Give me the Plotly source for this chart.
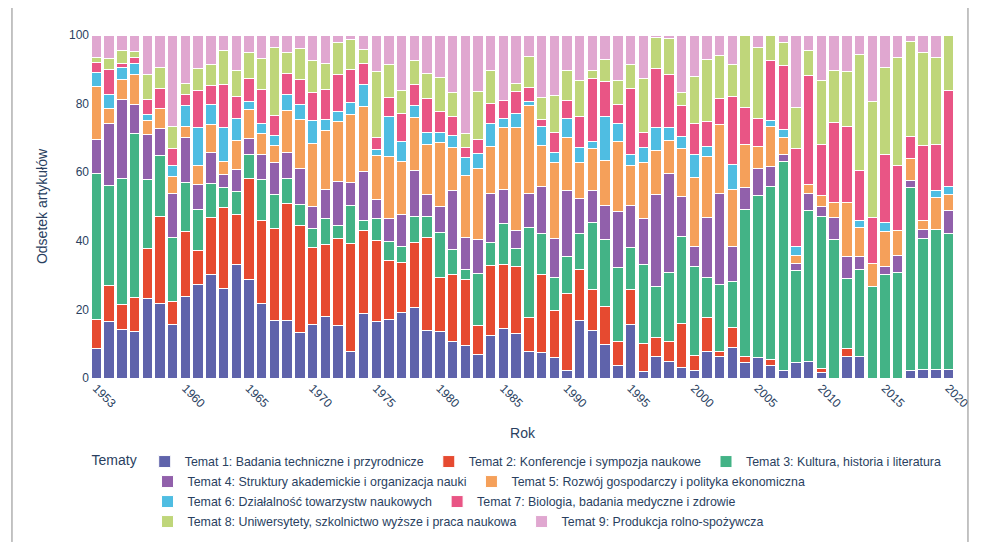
import plotly.graph_objects as go

years = list(range(1953, 2021))

topic_names = [
    "Temat 1: Badania techniczne i przyrodnicze",
    "Temat 2: Konferencje i sympozja naukowe",
    "Temat 3: Kultura, historia i literatura",
    "Temat 4: Struktury akademickie i organizacja nauki",
    "Temat 5: Rozwój gospodarczy i polityka ekonomiczna",
    "Temat 6: Działalność towarzystw naukowych",
    "Temat 7: Biologia, badania medyczne i zdrowie",
    "Temat 8: Uniwersytety, szkolnictwo wyższe i praca naukowa",
    "Temat 9: Produkcja rolno-spożywcza",
]

topic_colors = ["#5f63ab", "#e64a30", "#43b386", "#9160ab", "#f5a05a",
                "#4fbde2", "#e95585", "#bfd67a", "#e0a7d0"]

t1 = [8.5, 16.5, 14, 13.6, 23.1, 21.6, 15.7, 23.8, 27.2, 30.3,
      26, 33, 28.7, 21.6, 16.7, 16.7, 13.4, 15.7, 17.8, 15.4,
      7.8, 18.7, 16.5, 17, 19.2, 20.7, 13.8, 13.6, 10.7, 9.4,
      6.8, 12.4, 14.3, 13.1, 7.6, 7.3, 6, 2.1, 16.8, 13.9,
      9.9, 3.7, 15.5, 1.9, 6.3, 4.9, 3.1, 2.1, 7.6, 6.3,
      8.9, 4.4, 6, 3.7, 2.1, 4.6, 4.9, 1.5, 0, 6.3,
      6.3, 0, 0, 0, 2.1, 2.4, 2.4, 2.4]
t2 = [8.5, 10.5, 7.4, 10, 14.6, 25.4, 6.5, 19, 9.9, 16.5,
      23.6, 14.8, 29.6, 24.3, 27, 34.3, 31.1, 22.4, 21.1, 25.4,
      31.3, 24.4, 23.7, 17.3, 14.5, 18.9, 27.3, 15.8, 19.6, 19.3,
      8.5, 20.4, 18.9, 19.5, 9.9, 22.8, 13.6, 22.5, 14.8, 11.9,
      11, 6.8, 10.3, 8.3, 5.6, 5.8, 12.9, 4.5, 10.1, 1.3,
      5.7, 1.9, 0, 1.8, 0, 0, 0, 1.4, 0, 2.4,
      0, 0, 0, 0, 0, 0, 0, 0]
t3 = [42.5, 29, 36.9, 47.6, 20.3, 17.8, 18.9, 14.3, 12, 9.8,
      5.8, 6.6, 7, 11.9, 9.9, 7.3, 6.2, 5.4, 7.7, 3.6,
      11.1, 2.8, 6.3, 5.5, 4.7, 7.5, 6, 12.9, 7.3, 2.9,
      15.1, 6.8, 11.7, 5.3, 26.4, 11.9, 9.6, 10.9, 10.4, 19.4,
      19.4, 21.8, 12.3, 22.8, 14.9, 20.2, 25.3, 26, 11.5, 19.8,
      13.4, 42.8, 47.3, 50.4, 60.9, 26.7, 43.9, 44.2, 40.5, 20.2,
      25.3, 26.7, 30.1, 30.8, 53.5, 38.4, 40.8, 39.6]
t4 = [10, 18.3, 22.8, 8.5, 13.1, 7.9, 12.8, 12.9, 7.3, 9,
      3.9, 6.3, 4.4, 7.3, 9.1, 7.3, 10.3, 6.5, 8.5, 12.9,
      6.9, 14.4, 5.5, 6.8, 9.2, 13.4, 6.3, 7.7, 17, 9.4,
      9.9, 14.3, 10, 5.2, 10, 13.9, 11.4, 19.2, 10.2, 9.5,
      10, 16.1, 12.2, 13.4, 26.6, 28.7, 11.7, 5.6, 17.6, 26.3,
      10.2, 6.3, 7.9, 5.8, 2.3, 2, 4.9, 2.9, 6.3, 6.6,
      3.9, 0, 2.5, 4.9, 1.9, 2.5, 0, 6.8]
t5 = [15.5, 4.4, 5.9, 8.7, 4, 6, 4.9, 3.2, 5.6, 8.3,
      3.9, 8.6, 8.7, 6.3, 5.1, 12.3, 14.5, 18.5, 17, 17.5,
      19.7, 18.9, 12.8, 18, 15.6, 15.5, 14.6, 18.7, 12.5, 18,
      20.9, 13.6, 18, 30, 25.6, 11.9, 22.1, 15.3, 10.5, 12.2,
      13.1, 20.6, 11.7, 16.5, 12.9, 9.6, 13.9, 20.4, 17.8, 20.3,
      16.9, 12.8, 6.3, 11.7, 4.7, 2.3, 2.7, 3.3, 4.5, 15.8,
      8.4, 6.8, 10.2, 7.3, 6.6, 2.6, 9.3, 4.8]
t6 = [4, 4.1, 3.6, 3.2, 1.6, 0, 3.1, 6.3, 10.9, 5.8,
      9.9, 6.5, 2.1, 2.8, 2.9, 4.7, 4.2, 6.6, 3.4, 2.9,
      3.4, 6.3, 1.8, 11.7, 5.8, 3.4, 3.7, 3, 3.6, 5.3,
      4.2, 6.8, 2.9, 3.9, 1.2, 5.6, 3.1, 5.6, 4.6, 2.1,
      12.9, 5.3, 3.3, 4.3, 6.6, 3.7, 3.6, 6.7, 2.9, 0,
      7.1, 0, 0, 1.7, 2.4, 2.6, 0, 0, 0, 0,
      1.9, 0, 2.4, 0, 0, 0, 2.2, 2.3]
t7 = [3, 7.1, 1.2, 1.7, 4.6, 5.7, 4.9, 3.1, 11, 5.6,
      12.4, 6.3, 6.7, 9.9, 5.9, 6.1, 7.3, 8, 8.6, 10.9,
      9.7, 6.1, 3.6, 5.5, 8, 6.1, 9.7, 6, 5.4, 3,
      4.1, 5.6, 5.1, 6.4, 4, 1.9, 5.9, 5.3, 9, 18.2,
      10.2, 5.4, 19, 4.3, 17.3, 15.5, 9, 9, 7.3, 7.4,
      19.9, 10.7, 8.1, 17.6, 18.6, 28.7, 31.7, 14.9, 23.2, 22.1,
      14.6, 13.3, 20.1, 19, 6.4, 21.8, 13.5, 28]
t8 = [1.5, 3.2, 3.6, 1.9, 7.3, 6, 6.4, 3.4, 6.4, 6.1,
      9.9, 7.6, 7.8, 9, 19.8, 6.3, 9.2, 9.4, 7.7, 9.1,
      8.7, 4.1, 19.2, 9.7, 6.9, 7.1, 7.3, 9.8, 7.2, 4.1,
      14.1, 9.8, 0, 2.6, 9.1, 6.6, 10.7, 8.8, 10.5, 2.5,
      6.5, 7.1, 7.2, 15.8, 9.1, 10.7, 3.6, 13.7, 18, 12.7,
      9.4, 21.1, 20.8, 7.3, 6.9, 12, 7.4, 18.5, 15.2, 16,
      33.9, 33.7, 25.1, 31.3, 27.7, 27.3, 25.3, 16.1]
t9 = [6.5, 6.9, 4.6, 4.8, 11.4, 9.6, 26.8, 14, 9.7, 8.6,
      4.6, 10.3, 5, 6.9, 3.6, 5, 3.8, 7.5, 8.2, 2.3,
      1.4, 4.3, 10.6, 8.5, 16.1, 7.4, 11.3, 12.5, 16.7, 28.6,
      16.4, 10.3, 19.1, 14, 6.2, 18.1, 17.6, 10.3, 13.2, 10.3,
      7, 13.2, 8.5, 12.7, 0.7, 0.9, 16.9, 12, 7.2, 5.9,
      8.5, 0, 3.6, 0, 2.1, 21.1, 4.5, 13.3, 10.3, 10.6,
      5.7, 19.5, 9.6, 6.7, 1.8, 5, 6.5, 0]

series = [t1, t2, t3, t4, t5, t6, t7, t8, t9]

# legend rows as in the original (one legend per row)
legend_ids = ["legend", "legend", "legend", "legend2", "legend2",
              "legend3", "legend3", "legend4", "legend4"]

tick_years = [1953, 1960, 1965, 1970, 1975, 1980, 1985, 1990,
              1995, 2000, 2005, 2010, 2015, 2020]

fig = go.Figure()
for name, vals, col, lg in zip(topic_names, series, topic_colors, legend_ids):
    fig.add_trace(go.Bar(
        x=years, y=vals, name=name, legend=lg,
        marker=dict(color=col, line=dict(color="white", width=1)),
    ))

text_color = "#2a3f5f"
row_common = dict(orientation="h", xanchor="left", yanchor="middle",
                  traceorder="normal", font=dict(size=12.4),
                  bgcolor="rgba(0,0,0,0)")
fig.update_layout(
    barmode="stack",
    bargap=0.18,
    width=974, height=534,
    margin=dict(l=82, r=27, t=27, b=164, autoexpand=False),
    paper_bgcolor="white",
    plot_bgcolor="white",
    font=dict(family="Arial, Liberation Sans, sans-serif", size=12,
              color=text_color),
    xaxis=dict(
        title=dict(text="Rok", font=dict(size=14), standoff=18),
        tickmode="array", tickvals=tick_years,
        ticktext=[str(y) for y in tick_years],
        tickangle=45, showgrid=False, zeroline=False, showline=False,
        range=[1952.5, 2020.5],
    ),
    yaxis=dict(
        title=dict(text="Odsetek artykułów", font=dict(size=14), standoff=18),
        range=[0, 100], dtick=20, showgrid=False, zeroline=False,
        showline=False,
    ),
    legend=dict(x=-0.0005, y=-0.2449,
                title=dict(text="Tematy", font=dict(size=14)), **row_common),
    legend2=dict(x=0.0665, y=-0.3032, **row_common),
    legend3=dict(x=0.0665, y=-0.3615, **row_common),
    legend4=dict(x=0.0665, y=-0.4198, **row_common),
    shapes=[
        dict(type="line", xref="paper", yref="paper", x0=-0.0902, x1=-0.0902,
             y0=-0.478, y1=1.079, line=dict(color="#888888", width=1)),
        dict(type="line", xref="paper", yref="paper", x0=1.0150, x1=1.0150,
             y0=-0.478, y1=1.079, line=dict(color="#888888", width=1)),
    ],
)

fig.write_html("out.html")
